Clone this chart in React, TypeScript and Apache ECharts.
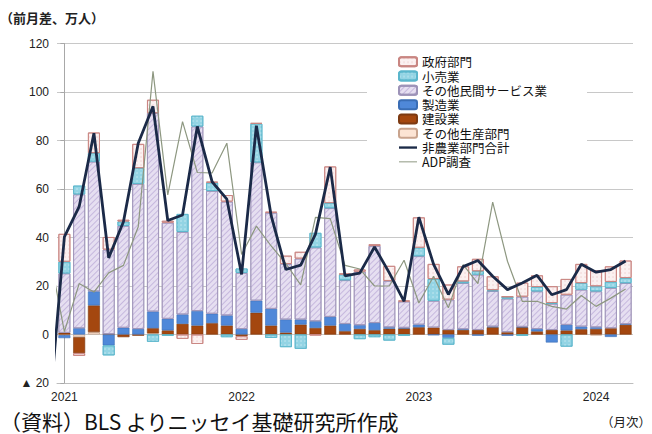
import React, { useEffect, useRef } from 'react';
import * as echarts from 'echarts';

// 2021/1 .. 2024/3 (39 months)
const months: string[] = [
  '2021/1','2021/2','2021/3','2021/4','2021/5','2021/6','2021/7','2021/8','2021/9','2021/10','2021/11','2021/12',
  '2022/1','2022/2','2022/3','2022/4','2022/5','2022/6','2022/7','2022/8','2022/9','2022/10','2022/11','2022/12',
  '2023/1','2023/2','2023/3','2023/4','2023/5','2023/6','2023/7','2023/8','2023/9','2023/10','2023/11','2023/12',
  '2024/1','2024/2','2024/3',
];

// 万人, 前月差
const otherProd = [-0.3, -1.1, 1.0, 0.2, 0, 0, 0.5, 0, 0, 0, 0, 0,
  0, 0, 0, 0, 0, 0, 0, 0, 0, 0, 0, 0,
  0, 0, 0, 0, 0, 0, 0, 0, 0, 0, 0, 0,
  -0.4, 0, 0];
const construction = [0.7, -6.6, 11.0, 0, -1.1, -0.5, 2.1, 1.7, 4.4, 3.7, 4.7, 3.7,
  -0.7, 9.0, 3.7, 0.8, 4.1, 2.7, 3.7, 1.4, 2.3, 1.8, 2.4, 2.5,
  3.0, 2.9, 1.9, 1.9, 1.9, 3.0, 1.0, 3.0, 1.3, 1.9, 1.7, 2.2,
  2.3, 2.6, 4.0];
const manufacturing = [-1.2, 2.6, 5.8, -4.5, 2.8, 2.3, 6.9, 4.8, 3.9, 6.0, 3.9, 4.2,
  2.3, 5.0, 6.9, 5.4, 2.1, 2.8, 3.6, 3.0, 1.6, 3.0, 0.6, 0.3,
  1.1, -0.3, -1.4, 0.3, -0.5, 0.3, -0.5, 0.2, 1.0, -3.3, 2.3, 1.1,
  0.7, -1.0, 0.3];
const services = [24.5, 55.2, 53.5, 34.8, 42.0, 59.8, 81.8, 39.6, 34.0, 76.1, 50.6, 46.9,
  23.1, 57.0, 39.6, 22.9, 25.1, 30.4, 44.8, 18.0, 22.0, 31.7, 19.1, 10.8,
  28.2, 11.0, 12.5, 19.0, 22.8, 14.6, 13.8, 12.4, 15.5, 10.8, 12.4, 15.2,
  14.8, 16.6, 16.9];
const retail = [4.8, 3.6, 3.5, -4.1, 1.8, 6.5, -3.0, -0.5, 7.4, 4.4, 3.4, -1.1,
  1.8, 15.9, -1.4, -5.2, -5.9, 6.0, 2.1, 2.4, -1.9, -1.1, -2.5, -0.5,
  3.5, 9.0, -2.8, 0.7, 1.4, 0.4, 0.7, -0.5, 1.8, 0.3, -5.0, 2.7,
  2.1, 2.5, 2.1];
const government = [11.5, -1.1, 8.5, 5.2, 0.7, 10.0, 5.5, 0.8, -1.8, -3.9, 0.4, 2.7,
  -1.5, 0.3, 0.4, 3.4, 2.8, -0.3, 15.1, 0.3, 0.9, 0.7, 6.2, 0.4,
  12.5, 6.2, 6.2, 6.2, 5.1, 5.7, 0.2, 5.8, 4.8, 6.9, 6.5, 7.9,
  6.6, 6.4, 7.2];

// lines include 2020/12 (index -1), clipped at the plot's left edge
const nfpDec2020 = -30.5;
const nfpTotal = [40.3, 52.7, 83.0, 31.6, 46.5, 78.9, 94.1, 47.0, 49.3, 85.8, 63.0, 55.8,
  24.8, 86.1, 49.0, 26.8, 28.6, 41.4, 69.0, 24.2, 25.3, 36.1, 25.4, 13.7,
  48.4, 28.9, 16.5, 28.0, 30.5, 24.0, 18.5, 21.2, 24.4, 16.4, 18.5, 29.0,
  25.7, 26.8, 30.3];
const adpDec2020 = 33;
const adp = [1.2, 21.0, 17.5, 25.4, 28.5, 44.4, 108.5, 57.6, 87.8, 66.8, 66.6, 78.9,
  33.0, 44.7, 36.5, 29.2, 20.5, 48.3, 47.8, 28.5, 27.0, 20.0, 20.0, 30.6,
  13.0, 24.0, 11.0, 28.8, 21.0, 54.6, 30.2, 13.7, 13.7, 11.6, 10.5, 16.1,
  11.6, 15.0, 18.8];

const yTicks = { min: -20, max: 120, interval: 20 };

const JP = "'Noto Sans CJK JP', sans-serif";
const LAT = "'Liberation Sans', 'Noto Sans CJK JP', sans-serif";

const NFP_COLOR = '#1b2a48';
const ADP_COLOR = '#8d9780';

function toXY(first: number, arr: number[]) {
  return [[-1, first], ...arr.map((v, i) => [i, v])];
}

export default function App() {
  const ref = useRef<HTMLDivElement>(null);
  useEffect(() => {
    const chart = echarts.init(ref.current!, null, { renderer: 'svg' });
    const barBase = { type: 'bar', stack: 'total', barCategoryGap: '19%', xAxisIndex: 0 };
    const option: any = {
      animation: false,
      backgroundColor: '#fff',
      grid: { left: 57, right: 19, top: 43.5, bottom: 51, containLabel: false },
      legend: {
        orient: 'vertical',
        left: 367,
        top: 51,
        padding: [4, 40, 6, 31],
        backgroundColor: '#fff',
        itemWidth: 18,
        itemHeight: 9,
        itemGap: 0.8,
        textStyle: { fontSize: 12.5, color: '#111', fontFamily: JP, lineHeight: 13.5 },
        data: [
          '政府部門', '小売業', 'その他民間サービス業', '製造業', '建設業', 'その他生産部門',
          { name: '非農業部門合計', icon: 'path://M0,0 H20 V2.6 H0 Z', itemStyle: { color: NFP_COLOR, borderWidth: 0 } },
          { name: 'ADP調査', icon: 'path://M0,0 H20 V1.1 H0 Z', itemStyle: { color: ADP_COLOR, borderWidth: 0 } },
        ],
        z: 5,
      },
      xAxis: [
        {
          type: 'category',
          data: months,
          axisLine: { onZero: false, lineStyle: { color: '#bdbdbd' } },
          axisTick: { show: false },
          axisLabel: {
            interval: 0,
            margin: 8,
            fontSize: 12,
            color: '#222',
            fontFamily: LAT,
            formatter: (v: string) => (v.endsWith('/1') ? v.split('/')[0] : ''),
          },
        },
        { type: 'value', min: -0.5, max: months.length - 0.5, show: false },
      ],
      yAxis: {
        type: 'value',
        min: yTicks.min,
        max: yTicks.max,
        interval: yTicks.interval,
        axisLine: { show: true, lineStyle: { color: '#a8a8a8' } },
        axisTick: { show: true, length: 4, lineStyle: { color: '#a8a8a8' } },
        splitLine: { lineStyle: { color: '#c8c8c8', width: 1 } },
        axisLabel: {
          margin: 8,
          fontSize: 12,
          color: '#222',
          fontFamily: LAT,
          formatter: (v: number) => (v < 0 ? '▲ ' + Math.abs(v) : String(v)),
        },
      },
      series: [
        { ...barBase, name: 'その他生産部門', data: otherProd,
          itemStyle: { color: '#fce4d4', borderColor: '#c9a48e', borderWidth: 0.8 } },
        { ...barBase, name: '建設業', data: construction,
          itemStyle: { color: '#a4470f', borderColor: '#7d3a12', borderWidth: 0.6 } },
        { ...barBase, name: '製造業', data: manufacturing,
          itemStyle: { color: '#4f88d9', borderColor: '#3a6db5', borderWidth: 0.6 } },
        { ...barBase, name: 'その他民間サービス業', data: services,
          itemStyle: {
            color: '#e6dff1', borderColor: '#9d93b8', borderWidth: 0.8,
            decal: { symbol: 'rect', symbolSize: 1, dashArrayX: [1, 0], dashArrayY: [1, 3],
              rotation: -Math.PI / 4, color: 'rgba(170,150,205,0.55)' },
          } },
        { ...barBase, name: '小売業', data: retail,
          itemStyle: {
            color: '#93d4e4', borderColor: '#5ab6cc', borderWidth: 0.8,
            decal: { symbol: 'circle', symbolSize: 0.6, dashArrayX: [2, 2], dashArrayY: [2, 2],
              color: 'rgba(255,255,255,0.6)' },
          } },
        { ...barBase, name: '政府部門', data: government,
          itemStyle: {
            color: '#fbf1f1', borderColor: '#c98682', borderWidth: 0.9,
            decal: { symbol: 'circle', symbolSize: 0.6, dashArrayX: [2, 2], dashArrayY: [2, 2],
              color: 'rgba(225,170,170,0.6)' },
          } },
        {
          type: 'line', name: '非農業部門合計', xAxisIndex: 1, data: toXY(nfpDec2020, nfpTotal),
          symbol: 'none', clip: true, z: 4,
          lineStyle: { color: NFP_COLOR, width: 2.8 }, itemStyle: { color: NFP_COLOR },
        },
        {
          type: 'line', name: 'ADP調査', xAxisIndex: 1, data: toXY(adpDec2020, adp),
          symbol: 'none', clip: true, z: 3,
          lineStyle: { color: ADP_COLOR, width: 1.2 }, itemStyle: { color: ADP_COLOR },
        },
      ],
      graphic: [
        { type: 'text', left: 0, top: 11, style: { text: '（前月差、万人）', fontSize: 13, fontWeight: 'bold', fill: '#222', fontFamily: JP } },
        { type: 'text', left: 0, top: 410, style: { text: '（資料）BLS よりニッセイ基礎研究所作成', fontSize: 21, fill: '#111', fontFamily: JP } },
        { type: 'text', left: 601, top: 415, style: { text: '（月次）', fontSize: 12.5, fill: '#222', fontFamily: JP } },
      ],
    };
    chart.setOption(option);
    return () => chart.dispose();
  }, []);
  return <div ref={ref} style={{ position: 'absolute', left: 0, top: 0, width: 652, height: 434 }} />;
}
